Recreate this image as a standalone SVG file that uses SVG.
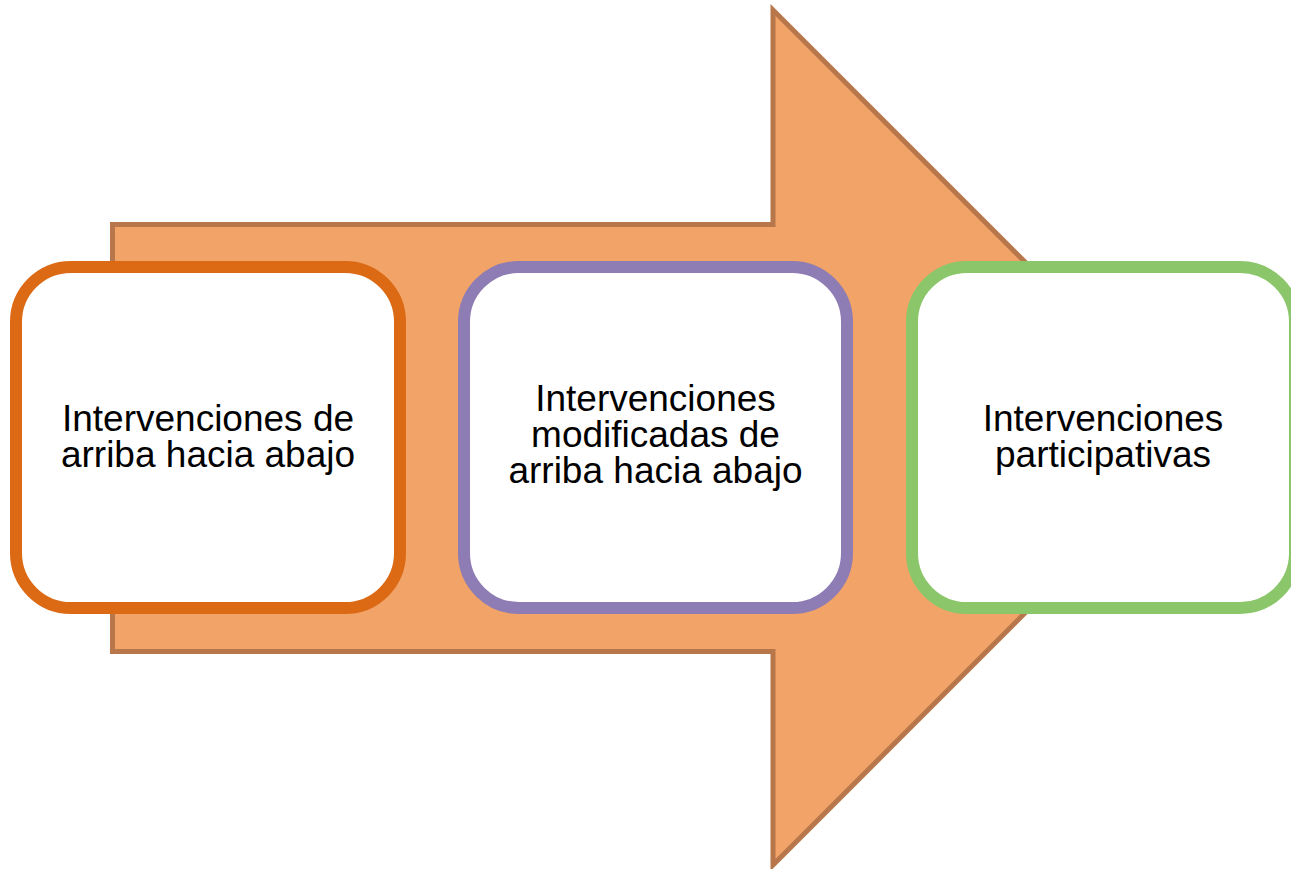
<svg xmlns="http://www.w3.org/2000/svg" width="1291" height="869" viewBox="0 0 1291 869">
  <style>
    .box { fill: #FFFFFF; stroke-width: 12; }
    .lbl { font-family: "Liberation Sans", Arial, sans-serif; font-size: 37px; fill: #000000; text-anchor: middle; }
  </style>
  <rect x="0" y="0" width="1291" height="869" fill="#FFFFFF"/>
  <g id="connectors">
    <polygon id="arrow" points="112.5,224.5 773,224.5 773,10 1200.5,437.5 773,865 773,651.5 112.5,651.5" fill="#F2A367" stroke="#B8774B" stroke-width="5"/>
  </g>
  <g id="node1">
    <rect class="box" x="16" y="267" width="384" height="341" rx="55" ry="55" stroke="#DC6914"/>
    <text class="lbl" x="208" y="430.5">Intervenciones de</text>
    <text class="lbl" x="208" y="466.5">arriba hacia abajo</text>
  </g>
  <g id="node2">
    <rect class="box" x="464" y="267" width="383" height="341" rx="55" ry="55" stroke="#8E7CB4"/>
    <text class="lbl" x="655.5" y="411">Intervenciones</text>
    <text class="lbl" x="655.5" y="447">modificadas de</text>
    <text class="lbl" x="655.5" y="483">arriba hacia abajo</text>
  </g>
  <g id="node3">
    <rect class="box" x="912" y="267" width="383" height="341" rx="55" ry="55" stroke="#8BC76A"/>
    <text class="lbl" x="1103" y="430.5">Intervenciones</text>
    <text class="lbl" x="1103" y="466.5">participativas</text>
  </g>
</svg>
